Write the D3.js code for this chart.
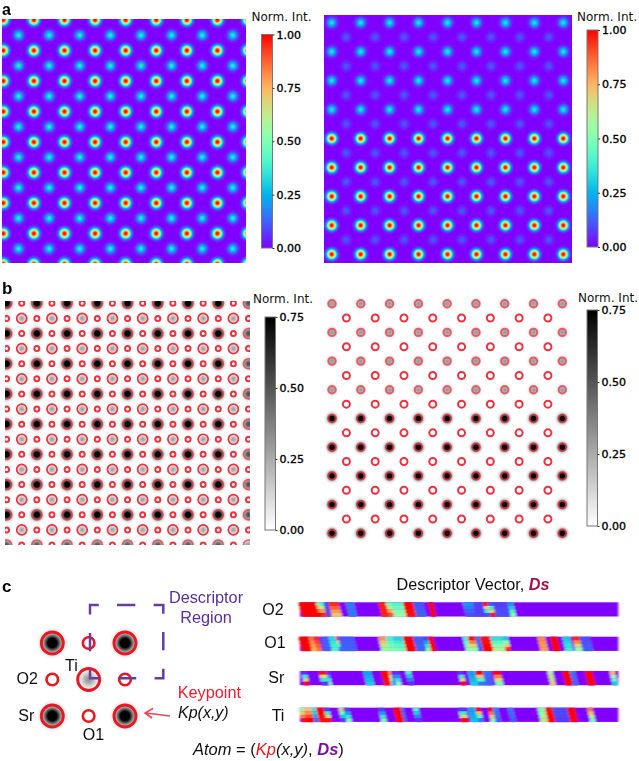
<!DOCTYPE html>
<html><head><meta charset="utf-8">
<script src="https://cdn.jsdelivr.net/npm/d3@7/dist/d3.min.js"></script>
<style>html,body{margin:0;background:#fff}svg{display:block}text{font-family:"Liberation Sans",Arial,sans-serif}</style>
</head><body><svg id="c" width="639" height="761"></svg>
<script>
// ---- data ----
const barTicksA = [0, 0.25, 0.5, 0.75, 1];
const barTicksB = [0, 0.25, 0.5, 0.75];
const majorCols = [0, 1, 2, 3, 4, 5, 6, 7, 8];
const minorCols = [0.5, 1.5, 2.5, 3.5, 4.5, 5.5, 6.5, 7.5];
const rowsMajor = [0, 1, 2, 3, 4, 5, 6, 7, 8];
const rowsMinor = [0.5, 1.5, 2.5, 3.5, 4.5, 5.5, 6.5, 7.5];
const aLeftMajorPeaks = [1, 1, 1, 1, 1, 1, 1, 1, 1];
const aLeftMinorPeaks = [.34, .34, .34, .34, .34, .34, .34, .34];
const aRightMajorPeaks = [.33, .33, .33, .33, 1, 1, 1, 1, 1];
const aRightMinorPeaks = [.11, .11, .11, .11, .11, .11, .11, .11];
const bLeftSrPeaks = [.95, .95, .95, .95, .95, .95, .95, .95, .5];
const bLeftTiPeaks = [.27, .27, .27, .27, .27, .27, .27, .27];
const bLeftColWeights = [1, 1, 1, 1, 1, 1, 1, 1, .55];
const bRightMajorPeaks = [.3, .3, .3, .3, 1, 1, 1, 1, 1];
const cellNames = ["O2", "O1", "Sr", "Ti"];
// descriptor vectors: [first bin, last bin, value at top of the strip, value at bottom]
const descO2 = [[0,7,1,1],[7,8,.55,1],[8,10,.45,.95],[10,12,.1,.08],[12,16,.95,.72],[19,22,.16,.16],[32,35,.96,.96],[35,37,.5,.9],[37,42,.42,.55],[42,46,1,.98],[46,50,.11,.13],[52,54,1,1],[66,70,.2,.1],[70,74,.08,.08],[74,76,.98,.11],[76,78,.11,.98],[78,84,.08,.1],[84,86,.2,.5]];
const descO1 = [[0,4,1,1],[4,6,.85,.75],[6,8,.95,.85],[9,12,.12,.13],[12,15,.33,.42],[14,16,.95,.16],[16,22,.11,.13],[32,35,.8,.55],[35,38,.4,.5],[38,42,.32,.48],[42,46,1,1],[46,50,.12,.13],[50,52,.08,.5],[52,54,1,1],[66,68,.4,.55],[68,71,.98,.55],[71,73,.15,.12],[73,77,.98,1],[77,82,.35,.6],[82,84,.3,.95],[96,99,.82,.78],[101,104,1,1],[106,109,.3,.38],[110,113,.95,.55],[113,117,.1,.12]];
const descSr = [[1,3,.06,1],[8,11,.98,.06],[10,12,.06,.52],[26,29,.22,.3],[33,36,1,.98],[36,37,.8,.3],[38,40,.06,.5],[43,45,.4,.06],[64,66,.06,1],[68,71,.22,.3],[71,74,1,.16],[74,77,.14,.12],[78,81,1,.5],[100,102,.6,.7],[106,109,1,1],[109,111,.16,.13],[115,118,1,1],[125,127,.75,.3]];
const descTi = [[0,2,.55,.98],[2,5,.72,1],[5,7,.36,.14],[7,10,1,.98],[10,12,.08,.98],[16,18,.7,.08],[18,20,.08,.5],[32,34,.08,.5],[38,41,1,1],[41,42,.15,.15],[46,48,.42,.06],[64,67,.06,1],[68,71,.22,.28],[70,73,1,.16],[76,78,1,.55],[78,80,.18,.13],[84,86,.16,.12],[96,99,.5,.62],[99,102,.98,1],[102,108,.1,.08],[108,111,1,1],[116,118,.85,.5]];
const descriptorValues = [descO2, descO1, descSr, descTi];
const stripRows = [0, 1, 2, 3];
const stripBins = 128;

// ---- colour scales ----
const rainbow = t => { const r = Math.min(1, Math.abs(2*t-.5)), g = Math.sin(Math.PI*t), b = Math.cos(Math.PI*t/2);
  return d3.rgb(r*255, g*255, b*255).formatHex(); };
const colorA = d3.scaleSequential(rainbow).domain([0, 1]).clamp(true);
const colorB = d3.scaleLinear().domain([0, .75]).range(["#ffffff", "#000000"]).clamp(true);

const svg = d3.select("#c");
const defs = svg.append("defs");
defs.append("filter").attr("id","soft").attr("x","-5%").attr("y","-5%").attr("width","110%").attr("height","110%")
  .append("feGaussianBlur").attr("stdDeviation",.5);
defs.append("filter").attr("id","softStrip").attr("x","-3%").attr("y","-5%").attr("width","106%").attr("height","110%")
  .append("feGaussianBlur").attr("stdDeviation","1 .7");
defs.append("filter").attr("id","softText").attr("x","-10%").attr("y","-10%").attr("width","120%").attr("height","120%")
  .append("feGaussianBlur").attr("stdDeviation",.28);

const cache = {};
function spotFill(name, color, peak) {
  const id = name + "_" + Math.round(peak*1000);
  if (!cache[id]) {
    cache[id] = 1;
    const g = defs.append("radialGradient").attr("id", id);
    d3.range(0, 1.0001, .04).forEach(t => {
      g.append("stop").attr("offset", t).attr("stop-color", color(peak*Math.exp(-Math.pow(2*t, 2.2))));
    });
  }
  return `url(#${id})`;
}
let clipN = 0;
function imagePanel(box, bg) {
  const id = "clip" + (clipN++);
  defs.append("clipPath").attr("id", id).append("rect").attr("x", box.x0).attr("y", box.y0).attr("width", box.x1-box.x0).attr("height", box.y1-box.y0);
  const g = svg.append("g").attr("filter","url(#soft)").append("g").attr("clip-path", `url(#${id})`);
  g.append("rect").attr("x", box.x0).attr("y", box.y0).attr("width", box.x1-box.x0).attr("height", box.y1-box.y0).attr("fill", bg);
  return { g, x: d3.scaleLinear().domain([0,8]).range([box.xa, box.xb]), y: d3.scaleLinear().domain([0,8]).range([box.ya, box.yb]) };
}
function spots(p, rows, cols, peaks, sigma, color, name, weights) {
  const data = rows.flatMap((r, i) => cols.map((c, j) => ({ r, c, v: peaks[i] * (weights ? weights[j] : 1) })));
  p.g.append("g").selectAll("circle").data(data).join("circle")
    .attr("cx", d => p.x(d.c)).attr("cy", d => p.y(d.r)).attr("r", sigma*3)
    .attr("fill", d => spotFill(name, color, d.v));
}
function rings(p, rows, cols, radius, width, opacity) {
  const data = rows.flatMap(r => cols.map(c => ({ r, c })));
  p.g.append("g").selectAll("circle").data(data).join("circle")
    .attr("cx", d => p.x(d.c)).attr("cy", d => p.y(d.r)).attr("r", radius)
    .attr("fill", "none").attr("stroke", "#ea1f2e").attr("stroke-opacity", opacity || .92).attr("stroke-width", width);
}
let cbN = 0;
function colorbar(b, color, ticks, dom) {
  const id = "cb" + (cbN++);
  const lg = defs.append("linearGradient").attr("id", id).attr("x1",0).attr("y1",1).attr("x2",0).attr("y2",0);
  d3.range(0, 1.0001, .05).forEach(t => lg.append("stop").attr("offset", t).attr("stop-color", color(dom*t)));
  const g = svg.append("g");
  g.append("rect").attr("x", b.x).attr("y", b.y0).attr("width", b.w).attr("height", b.y1-b.y0)
    .attr("fill", `url(#${id})`).attr("stroke", "#777").attr("stroke-width", 1);
  const y = d3.scaleLinear().domain([0, dom]).range([b.y1, b.y0]);
  const ax = g.append("g").attr("transform", `translate(${b.x+b.w},0)`)
    .call(d3.axisRight(y).tickValues(ticks).tickSize(2).tickPadding(2).tickFormat(d3.format(".2f")));
  ax.select(".domain").remove();
  ax.selectAll("line").attr("stroke", "#333");
  ax.selectAll("text").style("font-family", "'DejaVu Sans'").style("font-size", "11px").attr("fill", "#000")
    .attr("stroke", "#000").attr("stroke-width", .35);
  g.append("text").attr("x", b.tx).attr("y", b.ty).attr("text-anchor", "middle")
    .style("font-family", "'DejaVu Sans'").style("font-size", "12px").attr("fill", "#111").text("Norm. Int.");
}

// ---- panel a ----
const bgA = colorA(0);
let p = imagePanel({x0:2,x1:246,y0:19,y1:263,xa:3.3,xb:248,ya:20,yb:264}, bgA);
spots(p, rowsMajor, majorCols, aLeftMajorPeaks, 3.16, colorA, "a");
spots(p, rowsMinor, minorCols, aLeftMinorPeaks, 3.1, colorA, "a");
colorbar({x:261.5,w:11,y0:34.5,y1:248,tx:281.5,ty:21}, colorA, barTicksA, 1);

p = imagePanel({x0:324,x1:572,y0:15,y1:263,xa:331.7,xb:563.3,ya:22.7,yb:254.3}, bgA);
spots(p, rowsMajor, majorCols, aRightMajorPeaks, 3.05, colorA, "a");
spots(p, rowsMinor, minorCols, aRightMinorPeaks, 3, colorA, "a");
colorbar({x:587,w:11,y0:30,y1:247,tx:607,ty:21}, colorA, barTicksA, 1);

// ---- panel b ----
p = imagePanel({x0:5,x1:250,y0:301,y1:545,xa:6.6,xb:248.5,ya:303.3,yb:545}, "#fff");
spots(p, rowsMajor, majorCols, bLeftSrPeaks, 3.1, colorB, "b", bLeftColWeights);
spots(p, rowsMinor, minorCols, bLeftTiPeaks, 2.5, colorB, "b");
rings(p, rowsMajor, majorCols, 5, 1.7, .65);
rings(p, rowsMinor, minorCols, 5, 1.7);
rings(p, rowsMajor, minorCols, 2.5, 2);
rings(p, rowsMinor, majorCols, 2.5, 2);
colorbar({x:265,w:10.5,y0:317,y1:530,tx:283,ty:303}, colorB, barTicksB, .75);

p = imagePanel({x0:324,x1:572,y0:296,y1:541,xa:332,xb:562.3,ya:303.7,yb:533.3}, "#fff");
spots(p, rowsMajor, majorCols, bRightMajorPeaks, 2.7, colorB, "b");
rings(p, rowsMajor, majorCols, 3.7, 2, .65);
rings(p, rowsMinor, minorCols, 3.5, 2);
colorbar({x:587,w:10.5,y0:310,y1:526,tx:608,ty:302}, colorB, barTicksB, .75);

// ---- panel c: lattice cell ----
const cell = imagePanel({x0:30,x1:150,y0:622,y1:736,xa:52.3,xb:125,ya:643,yb:716}, "#fff");
cell.x.domain([0,2]); cell.y.domain([0,2]);
const cellSr = [[0,0],[2,0],[0,2],[2,2]], cellTi = [[1,1]], cellO = [[1,0],[0,1],[2,1],[1,2]];
cell.g.selectAll("circle.sr").data(cellSr).join("circle").attr("cx", d=>cell.x(d[0])).attr("cy", d=>cell.y(d[1])).attr("r", 16)
  .attr("fill", spotFill("c", colorB, 1));
cell.g.selectAll("circle.ti").data(cellTi).join("circle").attr("cx", d=>cell.x(d[0])).attr("cy", d=>cell.y(d[1])).attr("r", 14)
  .attr("fill", spotFill("c", colorB, .3));
const ringLayer = cell.g.append("g").attr("fill","none").attr("stroke","#ea1622");
ringLayer.selectAll("circle.big").data(cellSr.concat(cellTi)).join("circle").attr("cx", d=>cell.x(d[0])).attr("cy", d=>cell.y(d[1])).attr("r", 11).attr("stroke-width", 2.9);
ringLayer.selectAll("circle.small").data(cellO, d=>d.join()).join("circle").attr("cx", d=>cell.x(d[0])).attr("cy", d=>cell.y(d[1])).attr("r", 5.8).attr("stroke-width", 2.6);

const annot = svg.append("g").attr("filter","url(#soft)");
const P = 293.3, dash = P/16;
annot.append("path").attr("d", "M117 605H163.3V678.3H90V605H117").attr("fill","none").attr("stroke","#6a3d9a")
  .attr("stroke-width",2.5).attr("stroke-dasharray", `${dash} ${dash}`);
annot.append("path").attr("d","M170 716L146 713M153 708.5L145 713L152 718").attr("fill","none").attr("stroke","#e8465a").attr("stroke-width",1.6);

// ---- panel c: descriptor strips ----
const stripY = d3.scaleOrdinal().domain(cellNames).range([602.3, 636.7, 671, 707.7]);
const stripHeight = 14.2;
const stripX = d3.scaleBand().domain(d3.range(stripBins)).range([300, 618.3]);
const stripRowY = d3.scaleBand().domain(stripRows).range([0, stripHeight]);
const strips = svg.append("g").attr("filter","url(#softStrip)");
cellNames.forEach((n, k) => {
  const cells = [];
  stripRows.forEach(r => {
    const tt = r/(stripRows.length-1);
    d3.range(stripBins).forEach(b => {
      const seg = descriptorValues[k].find(s => b >= s[0] && b < s[1]);
      if (seg) cells.push({ b, r, v: seg[2] + (seg[3]-seg[2])*tt });
    });
  });
  const y0 = stripY(n);
  const g = strips.append("g");
  g.append("rect").attr("x", 300).attr("y", y0).attr("width", 318.3).attr("height", stripHeight).attr("fill", colorA(0));
  g.selectAll("rect.cell").data(cells).join("rect").attr("class","cell")
    .attr("x", d => Math.min(stripX(d.b) + d.r*.9 - 1.2, 618.3 - stripX.bandwidth())).attr("y", d => y0 + stripRowY(d.r))
    .attr("width", stripX.bandwidth()+.5).attr("height", stripRowY.bandwidth()+.3).attr("fill", d => colorA(d.v));
});

// ---- text ----
const tg = svg.append("g").attr("filter","url(#softText)");
function label(x, y, s, o = {}) {
  return tg.append("text").attr("x", x).attr("y", y).text(s).attr("fill", o.fill || "#111")
    .attr("text-anchor", o.anchor || "start").style("font-size", (o.size || 16) + "px")
    .style("font-weight", o.weight || "normal").style("font-style", o.style || "normal");
}
label(2, 14.5, "a", {size:16, weight:"bold", fill:"#000"});
label(2, 294, "b", {size:17, weight:"bold", fill:"#000"});
label(2, 592, "c", {size:17, weight:"bold", fill:"#000"});
label(206, 603, "Descriptor", {anchor:"middle", fill:"#5a2e9e", size:16.3});
label(206, 622.5, "Region", {anchor:"middle", fill:"#5a2e9e", size:16.3});
label(65, 670.5, "Ti");
label(16.5, 684, "O2");
label(18.3, 721, "Sr");
label(82.7, 739.5, "O1");
label(177.7, 697.5, "Keypoint", {fill:"#ee1c2e", size:16.3});
label(178, 718, "Kp(x,y)", {style:"italic"});
label(262.3, 615, "O2"); label(264.3, 648, "O1"); label(268.3, 682.5, "Sr"); label(271.7, 720.5, "Ti");

const t1 = tg.append("text").attr("x", 396.5).attr("y", 590).style("font-size","16.2px").attr("fill","#111");
t1.append("tspan").text("Descriptor Vector, ");
t1.append("tspan").text("Ds").style("font-weight","bold").style("font-style","italic").attr("fill","#a3104f");
const t2 = tg.append("text").attr("x", 193).attr("y", 755).style("font-size","16.5px").attr("fill","#111");
t2.append("tspan").text("Atom").style("font-style","italic");
t2.append("tspan").text(" = (");
t2.append("tspan").text("Kp").style("font-style","italic").attr("fill","#e8131f");
t2.append("tspan").text("(x,y)").style("font-style","italic");
t2.append("tspan").text(", ");
t2.append("tspan").text("Ds").style("font-weight","bold").style("font-style","italic").attr("fill","#7b0f9b");
t2.append("tspan").text(")");
</script></body></html>
